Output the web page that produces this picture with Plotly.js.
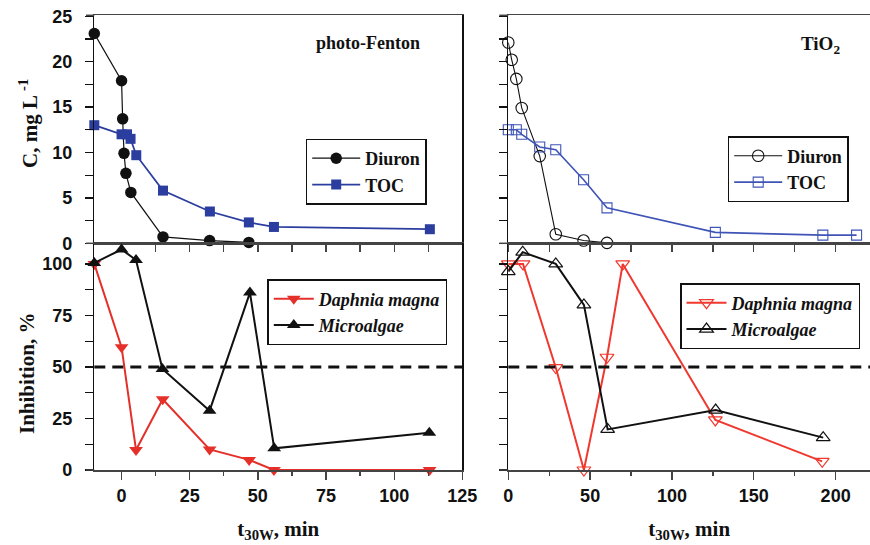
<!DOCTYPE html>
<html>
<head>
<meta charset="utf-8">
<script src="https://cdn.plot.ly/plotly-3.0.1.min.js"></script>
<style>html,body{margin:0;padding:0;background:#fff;}#chart{width:870px;height:545px;}</style>
</head>
<body>
<div id="chart"></div>
<script>
// ---- data ----
const pfDiuronX = [-10, 0, 0.4, 0.9, 1.6, 3.4, 15.2, 32.3, 46.7];
const pfDiuronY = [23.1, 17.9, 13.7, 9.9, 7.7, 5.6, 0.7, 0.3, 0.1];
const pfTocX = [-10, 0, 2.0, 3.3, 5.4, 15.2, 32.4, 46.7, 55.9, 113.1];
const pfTocY = [13.0, 12.0, 12.0, 11.5, 9.7, 5.8, 3.5, 2.3, 1.8, 1.55];
const tiDiuronX = [0, 2.1, 4.9, 8.2, 19.2, 29, 46, 60.3];
const tiDiuronY = [22.1, 20.2, 18.1, 14.9, 9.6, 1.0, 0.3, 0.05];
const tiTocX = [0, 4.9, 8.2, 19.2, 29, 46, 60.3, 126.5, 192.2, 212.8];
const tiTocY = [12.5, 12.5, 12.0, 10.6, 10.3, 7.0, 3.9, 1.2, 0.9, 0.9];
const pfDaphX = [-10, 0, 5.3, 15.1, 32.3, 46.8, 55.9, 113];
const pfDaphY = [100, 59.6, 9.7, 34.3, 10, 4.9, 0, 0];
const pfAlgaeX = [-10, 0, 5.3, 15, 32.3, 47.1, 56, 112.9];
const pfAlgaeY = [100.5, 107, 101.9, 49, 28.8, 86.1, 10.5, 18.1];
const tiDaphX = [0, 9, 29, 46.2, 60.3, 69.9, 126.5, 191.8];
const tiDaphY = [100, 100, 49.7, 0, 54.7, 100, 24.3, 4.2];
const tiAlgaeX = [0, 8.8, 29, 46.2, 60.7, 126.7, 192.4];
const tiAlgaeY = [96.3, 105.7, 100, 80.1, 19.7, 29.1, 15.7];
const threshold = 50;
const panelLabels = ['photo-Fenton', 'TiO<sub>2</sub>'];
const seriesNames = ['Diuron', 'TOC', 'Daphnia magna', 'Microalgae'];

// ---- helpers ----
const W = 870, H = 545;
const px = v => v / W;
const py = v => 1 - v / H;
const BLUE = '#2b3ea0', BLUE2 = '#3f54b6', RED = '#e5302a', RED2 = '#f0382e';
const serif = '"Liberation Serif", "Times New Roman", serif';
const sans = '"Liberation Sans", Arial, sans-serif';
const tickFont = {family: sans, size: 18, color: '#111', weight: 'bold'};
const legFont = {family: serif, size: 18, color: '#111', weight: 'bold'};

const dL = [px(94.3), px(462.3)];
const dR = [px(508.3), 1];
const dT = [py(243.3), py(15.3)];
const dB = [py(470), py(243.3)];

function tr(x, y, xa, ya, name, leg, color, symbol, size, lw, ow) {
  return {x: x, y: y, xaxis: xa, yaxis: ya, type: 'scatter', mode: 'lines+markers',
    name: name, legend: leg, cliponaxis: false,
    line: {color: color, width: lw},
    marker: {color: color, symbol: symbol, size: size, line: {color: color, width: ow || 0}}};
}

const data = [
  tr(pfDiuronX, pfDiuronY, 'x', 'y', seriesNames[0], 'legend', '#111', 'circle', 11.5, 1.2),
  tr(pfTocX, pfTocY, 'x', 'y', seriesNames[1], 'legend', BLUE, 'square', 10, 1.8),
  tr(pfDaphX, pfDaphY, 'x2', 'y2', '<i>' + seriesNames[2] + '</i>', 'legend2', RED, 'triangle-down', 12, 2),
  tr(pfAlgaeX, pfAlgaeY, 'x2', 'y2', '<i>' + seriesNames[3] + '</i>', 'legend2', '#111', 'triangle-up', 12, 2),
  tr(tiDiuronX, tiDiuronY, 'x3', 'y3', seriesNames[0], 'legend3', '#111', 'circle-open', 11.5, 1.1, 1.1),
  tr(tiTocX, tiTocY, 'x3', 'y3', seriesNames[1], 'legend3', BLUE2, 'square-open', 10, 1.6, 1.1),
  tr(tiDaphX, tiDaphY, 'x4', 'y4', '<i>' + seriesNames[2] + '</i>', 'legend4', RED2, 'triangle-down-open', 12, 2, 1.2),
  tr(tiAlgaeX, tiAlgaeY, 'x4', 'y4', '<i>' + seriesNames[3] + '</i>', 'legend4', '#111', 'triangle-up-open', 12, 2, 1.2)
];

const xLine = {showline: true, linecolor: '#444', linewidth: 1.5, zeroline: false, showgrid: false, ticks: 'outside', tickcolor: '#444', tickwidth: 1.3};
const yLine = {showline: true, linecolor: '#111', linewidth: 1.5, zeroline: false, showgrid: false, ticks: 'outside', tickcolor: '#111', tickwidth: 1.3};
const xTitle = {text: '<b>t<sub>30W</sub>, min</b>', font: {family: serif, size: 21, color: '#111'}, standoff: 16};

function legendAt(x, y, iw) {
  return {x: px(x), y: py(y), xanchor: 'left', yanchor: 'top', bgcolor: '#fff', bordercolor: '#111', borderwidth: 1.5,
    font: legFont, itemwidth: iw, tracegroupgap: 0};
}

const layout = {
  width: W, height: H, margin: {l: 0, r: 0, t: 0, b: 0},
  font: {family: serif, color: '#111'},
  paper_bgcolor: '#fff', plot_bgcolor: 'rgba(0,0,0,0)', showlegend: true,
  xaxis: Object.assign({}, xLine, {domain: dL, anchor: 'y', range: [-10, 125], dtick: 12.5, tick0: 0, ticklen: 7, showticklabels: false, mirror: true}),
  yaxis: Object.assign({}, yLine, {domain: dT, anchor: 'x', range: [0, 25.1], dtick: 5, ticklen: 8, tickfont: tickFont, ticklabelstandoff: 9, mirror: true,
    minor: {dtick: 2.5, ticks: 'outside', ticklen: 8, tickcolor: '#111', tickwidth: 1.3}}),
  xaxis2: Object.assign({}, xLine, {domain: dL, anchor: 'y2', range: [-10, 125], tick0: 0, dtick: 25, ticklen: 8, tickfont: tickFont, ticklabelstandoff: 1, mirror: true,
    minor: {dtick: 12.5, ticks: 'outside', ticklen: 4, tickcolor: '#444', tickwidth: 1.3}, title: xTitle}),
  yaxis2: Object.assign({}, yLine, {domain: dB, anchor: 'x2', range: [0, 110], dtick: 25, ticklen: 8, tickfont: tickFont, ticklabelstandoff: 9, mirror: true,
    minor: {dtick: 12.5, ticks: 'outside', ticklen: 8, tickcolor: '#111', tickwidth: 1.3}}),
  xaxis3: Object.assign({}, xLine, {domain: dR, anchor: 'y3', range: [0, 221], tick0: 0, dtick: 25, ticklen: 7, showticklabels: false, mirror: true}),
  yaxis3: Object.assign({}, yLine, {domain: dT, anchor: 'x3', range: [0, 25.1], dtick: 2.5, ticklen: 8, showticklabels: false}),
  xaxis4: Object.assign({}, xLine, {domain: dR, anchor: 'y4', range: [0, 221], tick0: 0, dtick: 50, ticklen: 8, tickfont: tickFont, ticklabelstandoff: 1, mirror: true,
    minor: {dtick: 25, ticks: 'outside', ticklen: 4, tickcolor: '#444', tickwidth: 1.3}, title: xTitle}),
  yaxis4: Object.assign({}, yLine, {domain: dB, anchor: 'x4', range: [0, 110], dtick: 12.5, ticklen: 8, showticklabels: false}),
  legend: legendAt(305.7, 138.5, 48),
  legend2: legendAt(267.3, 279, 40),
  legend3: legendAt(727.7, 136, 48),
  legend4: legendAt(680, 283, 40),
  shapes: [
    {type: 'line', xref: 'x2 domain', yref: 'y2', x0: 0, x1: 1, y0: threshold, y1: threshold, line: {color: '#111', width: 3, dash: '11px,7px'}},
    {type: 'line', xref: 'x4 domain', yref: 'y4', x0: 0, x1: 1, y0: threshold, y1: threshold, line: {color: '#111', width: 3, dash: '11px,7px'}},
    // axis line extensions under the outside ticks
    {type: 'line', xref: 'paper', yref: 'paper', x0: px(86), x1: px(94.3), y0: py(15.3), y1: py(15.3), line: {color: '#444', width: 1.5}},
    {type: 'line', xref: 'paper', yref: 'paper', x0: px(86), x1: px(94.3), y0: py(243.3), y1: py(243.3), line: {color: '#444', width: 1.5}},
    {type: 'line', xref: 'paper', yref: 'paper', x0: px(86), x1: px(94.3), y0: py(470), y1: py(470), line: {color: '#444', width: 1.5}},
    {type: 'line', xref: 'paper', yref: 'paper', x0: px(499.3), x1: px(508.3), y0: py(15.3), y1: py(15.3), line: {color: '#444', width: 1.5}},
    {type: 'line', xref: 'paper', yref: 'paper', x0: px(499.3), x1: px(508.3), y0: py(243.3), y1: py(243.3), line: {color: '#444', width: 1.5}},
    {type: 'line', xref: 'paper', yref: 'paper', x0: px(499.3), x1: px(508.3), y0: py(470), y1: py(470), line: {color: '#444', width: 1.5}}
  ],
  annotations: [
    {text: '<b>' + panelLabels[0] + '</b>', xref: 'paper', yref: 'paper', x: px(368), y: py(43), showarrow: false,
      xanchor: 'center', yanchor: 'middle', font: {family: serif, size: 18, color: '#111'}},
    {text: '<b>' + panelLabels[1] + '</b>', xref: 'paper', yref: 'paper', x: px(820), y: py(45), showarrow: false,
      xanchor: 'center', yanchor: 'middle', font: {family: serif, size: 19, color: '#111'}},
    {text: '<b>C, mg L <sup>-1</sup></b>', xref: 'paper', yref: 'paper', x: px(28), y: py(124), showarrow: false, textangle: -90,
      xanchor: 'center', yanchor: 'middle', font: {family: serif, size: 21, color: '#111'}},
    {text: '<b>Inhibition, %</b>', xref: 'paper', yref: 'paper', x: px(27), y: py(374), showarrow: false, textangle: -90,
      xanchor: 'center', yanchor: 'middle', font: {family: serif, size: 21, color: '#111'}}
  ]
};

Plotly.newPlot('chart', data, layout, {staticPlot: true, displayModeBar: false});
</script>
</body>
</html>
